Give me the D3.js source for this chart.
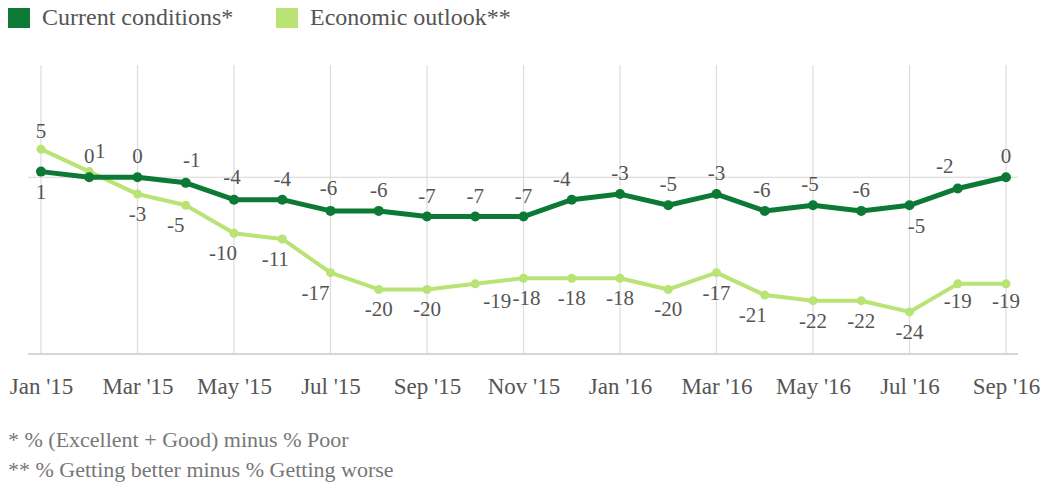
<!DOCTYPE html>
<html>
<head>
<meta charset="utf-8">
<script src="https://cdn.jsdelivr.net/npm/d3@7"></script>
<style>
  body { margin: 0; background: #fff; }
</style>
</head>
<body>
<div id="chart"></div>
<script>
// months shown on the chart
const months = ['Jan 15','Feb 15','Mar 15','Apr 15','May 15','Jun 15','Jul 15','Aug 15','Sep 15','Oct 15','Nov 15','Dec 15',
  'Jan 16','Feb 16','Mar 16','Apr 16','May 16','Jun 16','Jul 16','Aug 16','Sep 16'];
const tickLabels = ["Jan '15","Mar '15","May '15","Jul '15","Sep '15","Nov '15","Jan '16","Mar '16","May '16","Jul '16","Sep '16"];
const currentConditions = [1, 0, 0, -1, -4, -4, -6, -6, -7, -7, -7, -4, -3, -5, -3, -6, -5, -6, -5, -2, 0];
const economicOutlook = [5, 1, -3, -5, -10, -11, -17, -20, -20, -19, -18, -18, -18, -20, -17, -21, -22, -22, -24, -19, -19];
const seriesNames = ['Current conditions*', 'Economic outlook**'];
const footnotes = ['* % (Excellent + Good) minus % Poor', '** % Getting better minus % Getting worse'];

const width = 1042, height = 485;
const darkGreen = '#0c7a35';
const lightGreen = '#b9e375';
const textColor = '#555';
const font = '"Liberation Serif", "Times New Roman", serif';

const svg = d3.select('#chart').append('svg')
    .attr('width', width)
    .attr('height', height);

const x = d3.scalePoint().domain(months).range([41, 1006]);
const y = d3.scaleLinear().domain([-31.5, 20]).range([354, 65]);

// --- Legend ---
const legend = svg.append('g');
[[darkGreen, 8, 42], [lightGreen, 276, 310]].forEach((c, i) => {
    legend.append('rect')
        .attr('x', c[1]).attr('y', 8)
        .attr('width', 22).attr('height', 20)
        .attr('fill', c[0]);
    legend.append('text')
        .attr('x', c[2]).attr('y', 25)
        .attr('fill', textColor)
        .style('font-family', font)
        .style('font-size', '24px')
        .text(seriesNames[i]);
});

// --- Grid ---
const tickMonths = months.filter((d, i) => i % 2 === 0);
svg.append('g').selectAll('line')
    .data(tickMonths)
    .enter().append('line')
    .attr('x1', d => x(d)).attr('x2', d => x(d))
    .attr('y1', y(20)).attr('y2', y(-31.5))
    .attr('stroke', '#dcdcdc')
    .attr('stroke-width', 1.2);

svg.append('line')
    .attr('x1', 28).attr('x2', 1018)
    .attr('y1', y(0)).attr('y2', y(0))
    .attr('stroke', '#d6d6d6').attr('stroke-width', 1.2);

svg.append('line')
    .attr('x1', 28).attr('x2', 1018)
    .attr('y1', y(-31.5)).attr('y2', y(-31.5))
    .attr('stroke', '#d6d6d6').attr('stroke-width', 2);

// --- X axis labels ---
const xAxis = d3.axisBottom(x)
    .tickValues(tickMonths)
    .tickSize(0)
    .tickPadding(0)
    .tickFormat((d, i) => tickLabels[i]);
const axisG = svg.append('g')
    .attr('transform', 'translate(0, 378)')
    .call(xAxis);
axisG.select('.domain').remove();
axisG.selectAll('text')
    .attr('fill', textColor)
    .style('font-family', font)
    .style('font-size', '23px');

// --- Lines ---
const line = d3.line()
    .x((d, i) => x(months[i]))
    .y(d => y(d));

function drawSeries(values, color, w, r) {
    svg.append('path')
        .datum(values)
        .attr('d', line)
        .attr('fill', 'none')
        .attr('stroke', color)
        .attr('stroke-width', w)
        .attr('stroke-linejoin', 'round');
    svg.append('g').selectAll('circle')
        .data(values)
        .enter().append('circle')
        .attr('cx', (d, i) => x(months[i]))
        .attr('cy', d => y(d))
        .attr('r', r)
        .attr('fill', color);
}
drawSeries(economicOutlook, lightGreen, 4, 4.5);
drawSeries(currentConditions, darkGreen, 5, 5);

// --- Value labels ---
// current labels sit above the point, outlook labels below, with a few nudges
const curNudge = { 0: [0, 41], 3: [6, -2], 4: [-2, -2], 6: [-2, -2], 11: [-10, 0], 15: [-3, 0], 16: [-3, 0],
    18: [7, 42], 19: [-13, -1] };
const ecoNudge = { 0: [0, -38], 1: [11, -41], 3: [-10, 0], 4: [-11, 0], 5: [-7, 0], 6: [-15, 0],
    9: [22, -3], 10: [3, 0], 15: [-12, 0], 19: [0, -3], 20: [0, -3] };

function drawLabels(values, baseDy, nudge) {
    svg.append('g').selectAll('text')
        .data(values)
        .enter().append('text')
        .attr('x', (d, i) => x(months[i]) + (nudge[i] ? nudge[i][0] : 0))
        .attr('y', (d, i) => y(d) + baseDy + (nudge[i] ? nudge[i][1] : 0))
        .attr('text-anchor', 'middle')
        .attr('fill', textColor)
        .style('font-family', font)
        .style('font-size', '21px')
        .text(d => d);
}
drawLabels(currentConditions, -14, curNudge);
drawLabels(economicOutlook, 27, ecoNudge);

// --- Footnotes ---
svg.append('g').selectAll('text')
    .data(footnotes)
    .enter().append('text')
    .attr('x', 8)
    .attr('y', (d, i) => 447 + i * 30)
    .attr('fill', '#777')
    .style('font-family', font)
    .style('font-size', '22px')
    .text(d => d);
</script>
</body>
</html>
